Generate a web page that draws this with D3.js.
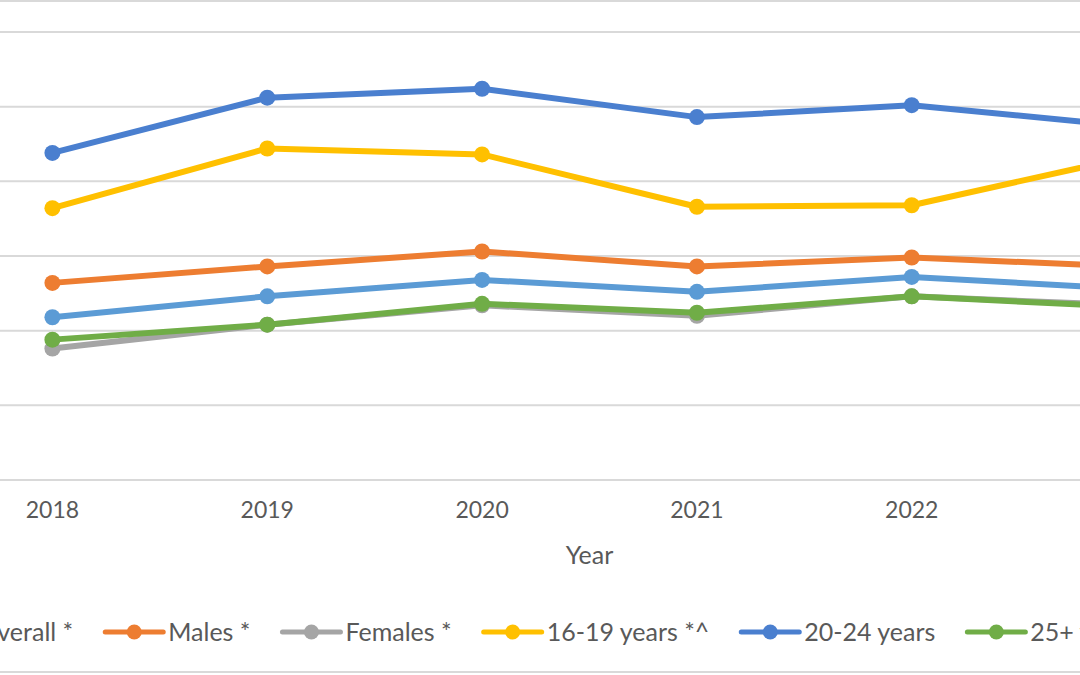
<!DOCTYPE html>
<html>
<head>
<meta charset="utf-8">
<script src="https://cdn.jsdelivr.net/npm/d3@7"></script>
<style>
  html, body { margin: 0; padding: 0; background: #fff; overflow: hidden; }
  svg { display: block; font-family: Lato, "Open Sans", sans-serif; }
</style>
</head>
<body>
<svg id="chart" width="1080" height="675"></svg>
<script>
// data (y axis labels are cropped, scale assumed 0-30)
const years = ["2018", "2019", "2020", "2021", "2022", "2023"];
const seriesNames = ["Overall *", "Males *", "Females *", "16-19 years *^", "20-24 years", "25+ years"];
const seriesColors = ["#5B9BD5", "#ED7D31", "#A5A5A5", "#FFC000", "#4A7FCF", "#70AD47"];
const overall  = [10.9, 12.3, 13.4, 12.6, 13.6, 12.8];
const males    = [13.2, 14.3, 15.3, 14.3, 14.9, 14.3];
const females  = [8.8, 10.4, 11.7, 11.0, 12.3, 11.7];
const teens    = [18.2, 22.2, 21.8, 18.3, 18.4, 21.6];
const twenties = [21.9, 25.6, 26.2, 24.3, 25.1, 23.7];
const over25   = [9.4, 10.4, 11.8, 11.2, 12.3, 11.6];
const yTicks = [0, 5, 10, 15, 20, 25, 30];

const seriesValues = [overall, males, females, teens, twenties, over25];
// drawing order: Excel draws in series order, so later series sit on top
const series = seriesNames.map((name, i) => ({ name, color: seriesColors[i], values: seriesValues[i] }));

const svg = d3.select('#chart');
const textColor = '#595959';
const gridColor = '#D9D9D9';

const plot = { left: -55, right: 1234, top: 32, bottom: 480 };

const x = d3.scaleBand().domain(years).range([plot.left, plot.right]);
const y = d3.scaleLinear().domain([0, 30]).range([plot.bottom, plot.top]);

// chart border (top and bottom visible in the crop)
svg.append('rect')
  .attr('x', -10).attr('y', 1)
  .attr('width', 1100).attr('height', 671)
  .attr('fill', 'none').attr('stroke', gridColor).attr('stroke-width', 2);

// gridlines
svg.append('g').attr('class', 'grid')
  .selectAll('line').data(yTicks)
  .join('line')
  .attr('x1', plot.left).attr('x2', plot.right)
  .attr('y1', d => y(d)).attr('y2', d => y(d))
  .attr('stroke', gridColor).attr('stroke-width', 2);

// x axis labels
const xAxis = svg.append('g').attr('transform', `translate(0,${plot.bottom})`)
  .call(d3.axisBottom(x).tickSize(0).tickPadding(22));
xAxis.select('.domain').remove();
xAxis.selectAll('text')
  .attr('fill', textColor).attr('font-size', 23)
  .attr('font-family', 'Lato, "Open Sans", sans-serif');

svg.append('text')
  .attr('x', (plot.left + plot.right) / 2).attr('y', 564)
  .attr('text-anchor', 'middle')
  .attr('fill', textColor).attr('font-size', 25)
  .text('Year');

// lines + markers
const line = d3.line()
  .x((d, i) => x(years[i]) + x.bandwidth() / 2)
  .y(d => y(d));

const seriesG = svg.append('g').selectAll('.series').data(series)
  .join('g').attr('class', 'series');

seriesG.append('path')
  .attr('d', d => line(d.values))
  .attr('fill', 'none')
  .attr('stroke', d => d.color)
  .attr('stroke-width', 6)
  .attr('stroke-linejoin', 'round')
  .attr('stroke-linecap', 'round');

seriesG.selectAll('circle').data(d => d.values.map(v => ({ v, color: d.color })))
  .join('circle')
  .attr('cx', (d, i) => x(years[i]) + x.bandwidth() / 2)
  .attr('cy', d => y(d.v))
  .attr('r', 8)
  .attr('fill', d => d.color);

// legend
const symW = 58, symGap = 5, itemGap = 32, legendY = 632, legendCenter = 526;
const legend = svg.append('g').attr('class', 'legend');
const items = legend.selectAll('.legend-item').data(series)
  .join('g').attr('class', 'legend-item');

items.append('line')
  .attr('x1', 0).attr('x2', symW)
  .attr('y1', 0).attr('y2', 0)
  .attr('stroke', d => d.color).attr('stroke-width', 5)
  .attr('stroke-linecap', 'round');
items.append('circle')
  .attr('cx', symW / 2).attr('cy', 0).attr('r', 7.5)
  .attr('fill', d => d.color);
items.append('text')
  .attr('x', symW + symGap).attr('y', 0).attr('dy', '0.35em')
  .attr('fill', textColor).attr('font-size', 25)
  .text(d => d.name);

let offset = 0;
const widths = [];
items.each(function () {
  const w = symW + symGap + d3.select(this).select('text').node().getComputedTextLength();
  widths.push(w);
});
const total = d3.sum(widths) + itemGap * (widths.length - 1);
offset = legendCenter - total / 2;
items.attr('transform', (d, i) => {
  const tx = offset;
  offset += widths[i] + itemGap;
  return `translate(${tx},${legendY})`;
});
</script>
</body>
</html>
